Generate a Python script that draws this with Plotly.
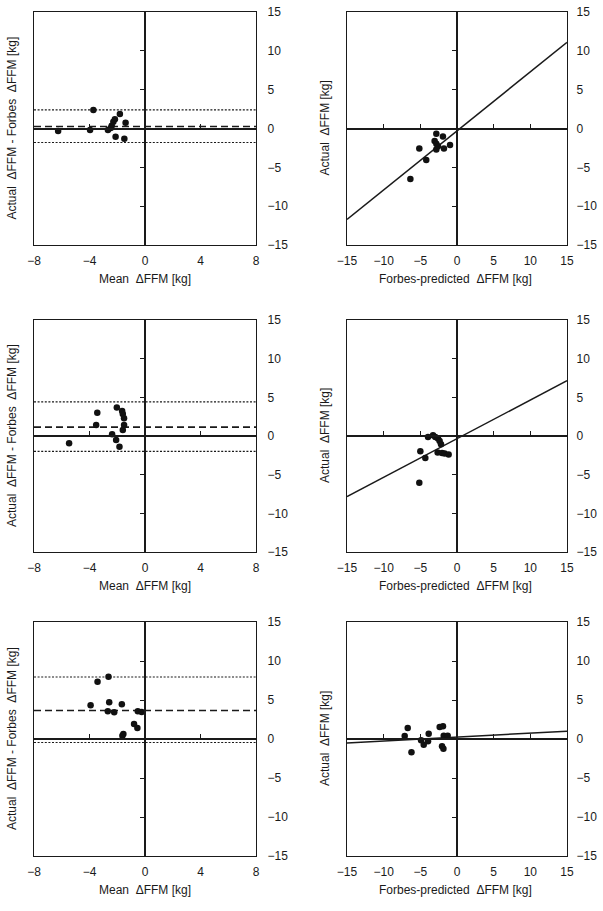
import plotly.graph_objects as go

# ---------------- data ----------------
# Row 1
mean1 = [-6.26, -3.72, -3.96, -1.81, -2.17, -2.28, -1.40, -2.40, -2.67, -2.47, -2.12, -1.49]
diff1 = [-0.32, 2.38, -0.19, 1.87, 1.18, 0.88, 0.75, 0.36, -0.19, 0.06, -1.06, -1.31]
pred2 = [-2.82, -1.92, -3.05, -2.82, -2.59, -2.82, -1.78, -0.95, -5.14, -4.19, -6.36]
act2 = [-0.68, -1.03, -1.62, -1.97, -2.27, -2.70, -2.57, -2.14, -2.57, -4.06, -6.50]
# Row 2
mean3 = [-2.03, -1.65, -1.60, -1.51, -1.51, -1.60, -3.44, -3.52, -2.37, -2.08, -1.84, -5.47]
diff3 = [3.69, 3.22, 2.83, 2.28, 1.42, 0.77, 3.00, 1.42, 0.22, -0.51, -1.38, -0.94]
pred4 = [-3.95, -3.27, -2.96, -2.59, -2.37, -2.18, -2.64, -2.04, -1.69, -1.14, -5.00, -4.32, -5.14]
act4 = [-0.13, 0.09, -0.13, -0.33, -0.64, -1.07, -2.14, -2.19, -2.27, -2.39, -1.97, -2.83, -6.05]
# Row 3
mean5 = [-3.42, -2.63, -3.92, -2.58, -1.67, -2.68, -2.22, -0.52, -0.24, -0.79, -0.55, -1.56, -1.63]
diff5 = [7.34, 7.98, 4.32, 4.71, 4.45, 3.55, 3.42, 3.55, 3.47, 1.93, 1.42, 0.64, 0.42]
pred6 = [-6.72, -7.13, -6.21, -3.86, -3.95, -4.54, -4.90, -2.36, -1.91, -1.81, -1.27, -2.04, -1.85]
act6 = [1.42, 0.39, -1.71, 0.68, -0.30, -0.73, -0.17, 1.54, 1.63, 0.42, 0.42, -0.94, -1.25]

# Bland-Altman bias and limits of agreement (per row)
bias = [0.25, 1.15, 3.65]
upper_loa = [2.40, 4.40, 7.95]
lower_loa = [-1.80, -2.00, -0.45]

# Regression lines (per row)
slope = [0.76, 0.50, 0.05]
intercept = [-0.30, -0.35, 0.25]

left_range = [-8, 8]
right_range = [-15, 15]
y_range = [-15, 15]
left_xticks = [-8, -4, 0, 4, 8]
right_xticks = [-15, -10, -5, 0, 5, 10, 15]
yticks = [-15, -10, -5, 0, 5, 10, 15]
left_center_xticks = [-4, 4]
right_center_xticks = [-10, -5, 5, 10]
center_yticks = [-10, -5, 5, 10]

left_xtitle = "Mean \u00a0\u0394FFM [kg]"
right_xtitle = "Forbes-predicted \u00a0\u0394FFM [kg]"
left_ytitle = "Actual \u00a0\u0394FFM - Forbes \u00a0\u0394FFM [kg]"
right_ytitle = "Actual \u00a0\u0394FFM [kg]"

ba_x = [mean1, mean3, mean5]
ba_y = [diff1, diff3, diff5]
rg_x = [pred2, pred4, pred6]
rg_y = [act2, act4, act6]

# ---------------- layout geometry (page pixels) ----------------
W, H = 603, 911
rows_px = [(12, 245), (320, 552), (622, 856)]
cols_px = [(34, 256), (347, 567)]


def fx(px):
    return px / W


def fy(px):
    return 1 - px / H


INK = "#1a1a1a"
FONT = "Liberation Sans, Arial, sans-serif"

fig = go.Figure()
layout = dict(
    template="none",
    width=W, height=H, autosize=False,
    margin=dict(l=0, r=0, t=0, b=0, pad=0, autoexpand=False),
    paper_bgcolor="white", plot_bgcolor="white",
    showlegend=False,
    font=dict(family=FONT, size=12, color=INK),
)
annotations = []

for r in range(3):
    top, bot = rows_px[r]
    ydom = [fy(bot), fy(top)]
    ymid = (ydom[0] + ydom[1]) / 2
    for c in range(2):
        k = 2 * r + c + 1
        kc = k + 6
        left, right = cols_px[c]
        xdom = [fx(left), fx(right)]
        xmid = (xdom[0] + xdom[1]) / 2
        xr = left_range if c == 0 else right_range
        xt = left_xticks if c == 0 else right_xticks
        cxt = left_center_xticks if c == 0 else right_center_xticks
        xs = "x" if k == 1 else f"x{k}"
        ys = "y" if k == 1 else f"y{k}"
        xn = "xaxis" if k == 1 else f"xaxis{k}"
        yn = "yaxis" if k == 1 else f"yaxis{k}"

        layout[xn] = dict(
            domain=xdom, range=xr, anchor=ys, automargin=False,
            showline=True, mirror=True, linecolor=INK, linewidth=1.3,
            ticks="", tickvals=xt, showgrid=False, zeroline=False,
            tickfont=dict(size=12, color=INK), ticklabelstandoff=4,
            fixedrange=True,
        )
        layout[yn] = dict(
            domain=ydom, range=y_range, anchor=xs, side="right", automargin=False,
            showline=True, mirror=True, linecolor=INK, linewidth=1.3,
            ticks="", tickvals=yticks, showgrid=False, zeroline=False,
            tickfont=dict(size=12, color=INK), ticklabelstandoff=8 if c == 0 else 6,
            fixedrange=True,
        )
        # centre axes (through the origin) with small ticks
        layout[f"xaxis{kc}"] = dict(
            domain=xdom, range=xr, overlaying=xs, anchor="free", position=ymid,
            automargin=False,
            showline=True, linecolor=INK, linewidth=1.5,
            ticks="inside", ticklen=4, tickwidth=1.2, tickcolor=INK,
            tickvals=cxt, showticklabels=False, showgrid=False, zeroline=False,
            fixedrange=True,
        )
        layout[f"yaxis{kc}"] = dict(
            domain=ydom, range=y_range, overlaying=ys, anchor="free", position=xmid,
            automargin=False,
            side="left", showline=True, linecolor=INK, linewidth=1.5,
            ticks="outside", ticklen=4, tickwidth=1.2, tickcolor=INK,
            tickvals=center_yticks, showticklabels=False, showgrid=False, zeroline=False,
            fixedrange=True,
        )
        fig.add_trace(go.Scatter(x=[], y=[], xaxis=f"x{kc}", yaxis=f"y{kc}",
                                 showlegend=False, hoverinfo="skip"))

        if c == 0:
            # limits of agreement and bias
            for val, dash, wdt in [(upper_loa[r], "2px,1.6px", 1.2),
                                   (lower_loa[r], "2px,1.6px", 1.2),
                                   (bias[r], "7px,4px", 1.6)]:
                fig.add_trace(go.Scatter(
                    x=left_range, y=[val, val], mode="lines", xaxis=xs, yaxis=ys,
                    line=dict(color=INK, width=wdt, dash=dash),
                    hoverinfo="skip", showlegend=False))
            fig.add_trace(go.Scatter(
                x=ba_x[r], y=ba_y[r], mode="markers", xaxis=xs, yaxis=ys,
                marker=dict(color="#111111", size=6.5, line=dict(width=0)),
                showlegend=False))
        else:
            fig.add_trace(go.Scatter(
                x=right_range, y=[intercept[r] + slope[r] * v for v in right_range],
                mode="lines", xaxis=xs, yaxis=ys,
                line=dict(color=INK, width=1.5), hoverinfo="skip", showlegend=False))
            fig.add_trace(go.Scatter(
                x=rg_x[r], y=rg_y[r], mode="markers", xaxis=xs, yaxis=ys,
                marker=dict(color="#111111", size=6.5, line=dict(width=0)),
                showlegend=False))

        # titles
        annotations.append(dict(
            text=left_xtitle if c == 0 else right_xtitle,
            xref="paper", yref="paper", x=(fx(left) + fx(right)) / 2 if c == 0 else fx(455),
            y=fy(bot + 34), xanchor="center", yanchor="middle", showarrow=False,
            font=dict(size=12, color=INK, family=FONT)))
        annotations.append(dict(
            text=left_ytitle if c == 0 else right_ytitle,
            xref="paper", yref="paper", x=fx(12) if c == 0 else fx(325),
            y=ymid, xanchor="center", yanchor="middle", textangle=-90, showarrow=False,
            font=dict(size=12, color=INK, family=FONT)))

layout["annotations"] = annotations
fig.update_layout(**layout)
# remove the default 8px page margin so the figure fills the window exactly
fig.write_html("out.html", config={"displayModeBar": False},
               post_script="document.body.style.margin='0px';")
